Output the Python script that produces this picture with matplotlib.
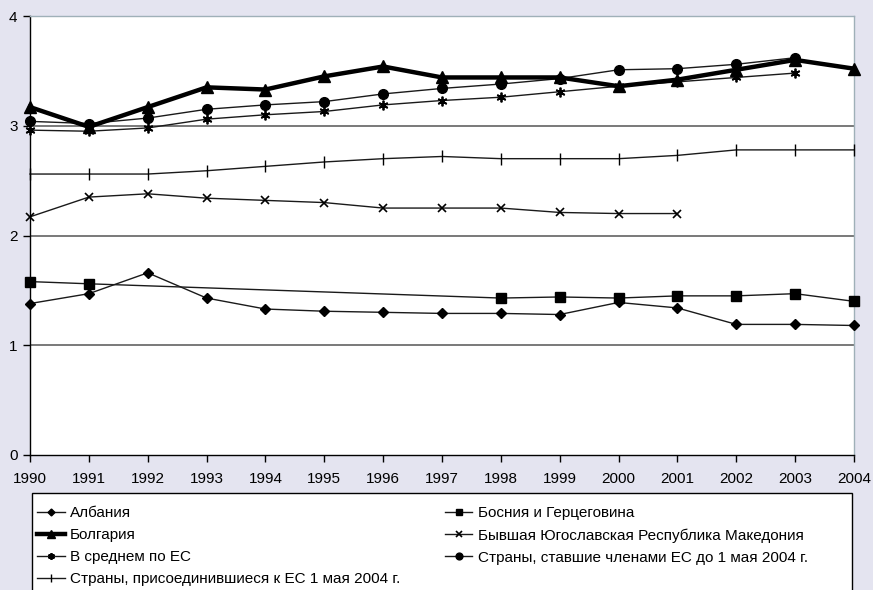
import numpy as np
import matplotlib.pyplot as plt
from matplotlib.patches import Rectangle

plt.rcParams['font.family'] = ['Liberation Sans', 'DejaVu Sans']

years = list(range(1990, 2005))
albania = [1.38, 1.47, 1.66, 1.43, 1.33, 1.31, 1.30, 1.29, 1.29, 1.28, 1.39, 1.34, 1.19, 1.19, 1.18]
bosnia = [1.58, 1.56, None, None, None, None, None, None, 1.43, 1.44, 1.43, 1.45, 1.45, 1.47, 1.40]
bulgaria = [3.17, 2.99, 3.17, 3.35, 3.33, 3.45, 3.54, 3.44, 3.44, 3.44, 3.36, 3.42, 3.51, 3.60, 3.52]
macedonia = [2.17, 2.35, 2.38, 2.34, 2.32, 2.30, 2.25, 2.25, 2.25, 2.21, 2.20, 2.20]
eu_avg = [2.96, 2.95, 2.98, 3.06, 3.10, 3.13, 3.19, 3.23, 3.26, 3.31, 3.36, 3.40, 3.44, 3.48]
eu15 = [3.04, 3.02, 3.07, 3.15, 3.19, 3.22, 3.29, 3.34, 3.38, 3.43, 3.51, 3.52, 3.56, 3.62]
accession = [2.56, 2.56, 2.56, 2.59, 2.63, 2.67, 2.70, 2.72, 2.70, 2.70, 2.70, 2.73, 2.78, 2.78, 2.78]

labels_left = ["Албания", "Болгария", "В среднем по ЕС",
               "Страны, присоединившиеся к ЕС 1 мая 2004 г."]
labels_right = ["Босния и Герцеговина", "Бывшая Югославская Республика Македония",
                "Страны, ставшие членами ЕС до 1 мая 2004 г."]

bg = '#e4e4f0'
fig = plt.figure(figsize=(8.73, 5.90), dpi=100, facecolor=bg)
ax = fig.add_axes([30/873, 135/590, 824/873, 439/590])
ax.set_facecolor('white')

def xs(vals):
    return [y for y, v in zip(years, vals) if v is not None]

def ys(vals):
    return [v for v in vals if v is not None]

lc = '#1a1a1a'
h_alb, = ax.plot(xs(albania), ys(albania), color=lc, lw=1, marker='D', ms=5, mfc='black', mec='black', clip_on=False, zorder=3)
h_bul, = ax.plot(xs(bulgaria), ys(bulgaria), color='black', lw=3.2, marker='^', ms=8, mfc='black', mec='black', clip_on=False, zorder=5)
h_eua, = ax.plot(years[:len(eu_avg)], eu_avg, color=lc, lw=1, marker=(6, 2, 0), ms=7, mec='black', mew=1.3, clip_on=False, zorder=3)
h_acc, = ax.plot(years, accession, color=lc, lw=1, marker='|', ms=8, mec='black', mew=1, clip_on=False, zorder=3)
h_bos, = ax.plot(xs(bosnia), ys(bosnia), color=lc, lw=1, marker='s', ms=6.5, mfc='black', mec='black', clip_on=False, zorder=3)
h_mac, = ax.plot(years[:len(macedonia)], macedonia, color=lc, lw=1, marker='x', ms=6, mec='black', mew=1.2, clip_on=False, zorder=3)
h_e15, = ax.plot(years[:len(eu15)], eu15, color=lc, lw=1, marker='o', ms=7, mfc='black', mec='black', clip_on=False, zorder=4)

ax.set_xlim(1990, 2004)
ax.set_ylim(0, 4)
ax.set_xticks(years)
ax.set_xticklabels([str(y) for y in years])
ax.set_yticks([0, 1, 2, 3, 4])
for yv in [1, 2, 3]:
    ax.axhline(yv, color='#555555', lw=1.1, zorder=1)
ax.tick_params(axis='both', direction='out', length=5, width=1, labelsize=11, colors='black')
ax.tick_params(axis='x', pad=7)
ax.tick_params(axis='y', pad=4)
for s in ['top', 'right']:
    ax.spines[s].set_color('#9fb0b8')
    ax.spines[s].set_linewidth(1)
for s in ['left', 'bottom']:
    ax.spines[s].set_color('black')
    ax.spines[s].set_linewidth(1)

# legend box
box = Rectangle((32/873, -10/590), 820/873, 107/590, transform=fig.transFigure,
                facecolor='white', edgecolor='black', lw=1, zorder=0)
fig.patches.append(box)

leg_kw = dict(loc='upper left', frameon=False, fontsize=11, handlelength=1.8,
              markerscale=0.7, labelspacing=0.53, borderpad=0, borderaxespad=0,
              handletextpad=0.35)
fig.legend([h_alb, h_bul, h_eua, h_acc], labels_left,
           bbox_to_anchor=(37/873, 84/590), **leg_kw)
fig.legend([h_bos, h_mac, h_e15], labels_right,
           bbox_to_anchor=(445/873, 84/590), **leg_kw)

fig.savefig('out.png', dpi=100, facecolor=bg)
